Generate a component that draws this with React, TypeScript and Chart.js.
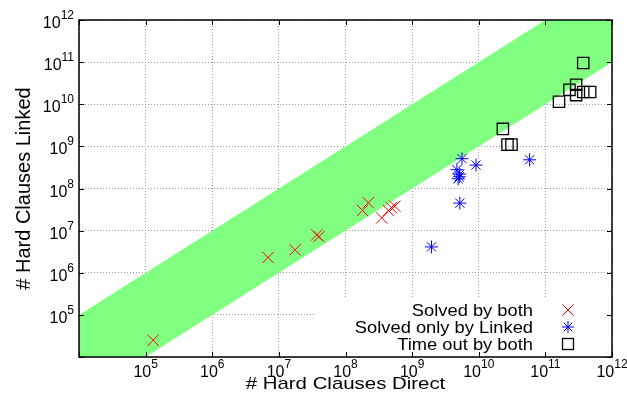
import React, { useEffect, useRef } from 'react';
import { Chart, registerables } from 'chart.js';

Chart.register(...registerables);

// ---- data ----
const axisMin = 1e4;
const axisMax = 1e12;
const decadeValues = [1e4, 1e5, 1e6, 1e7, 1e8, 1e9, 1e10, 1e11, 1e12];
const tickLabelValues = [1e5, 1e6, 1e7, 1e8, 1e9, 1e10, 1e11, 1e12];
const tickLabelExponents = ['5', '6', '7', '8', '9', '10', '11', '12'];

const bandX = [1e4, 1e12];
const bandUpper = [1e5, 1e13];
const bandLower = [1e3, 1e11];

const bothX = [1.3e5, 6.9e6, 1.75e7, 3.7e7, 4.0e7, 1.8e8, 2.2e8, 3.5e8, 4.4e8, 4.9e8, 5.5e8];
const bothY = [2.5e4, 2.3e6, 3.5e6, 7.9e6, 7.2e6, 3.0e7, 4.6e7, 2.0e7, 3.0e7, 3.5e7, 3.8e7];

const linkedX = [5.6e9, 9.1e9, 4.7e9, 5.2e9, 5.1e9, 4.9e9, 5.2e9, 5.8e10, 1.95e9];
const linkedY = [5.1e8, 3.6e8, 2.8e8, 2.2e8, 1.9e8, 1.7e8, 4.5e7, 4.8e8, 4.1e6];

const timeoutX = [3.7e11, 2.9e11, 2.3e11, 2.9e11, 3.7e11, 4.7e11, 1.6e11, 2.3e10, 2.7e10, 3.1e10];
const timeoutY = [9.5e10, 2.9e10, 2.2e10, 1.65e10, 1.95e10, 1.95e10, 1.15e10, 2.6e9, 1.1e9, 1.1e9];

const seriesLabels = ['Solved by both', 'Solved only by Linked', 'Time out by both'];
const xTitle = '# Hard Clauses Direct';
const yTitle = '# Hard Clauses Linked';

const FONT = '"Liberation Sans", Arial, Helvetica, sans-serif';
const GREEN = 'rgb(128,255,128)';

function drawText(
  ctx: CanvasRenderingContext2D,
  s: string,
  x: number,
  y: number,
  size: number,
  align: 'left' | 'right' | 'center',
  sx = 1
) {
  ctx.save();
  ctx.font = `${size}px ${FONT}`;
  const w = ctx.measureText(s).width * sx;
  const left = align === 'right' ? x - w : align === 'center' ? x - w / 2 : x;
  ctx.translate(left, y);
  ctx.scale(sx, 1);
  ctx.textAlign = 'left';
  ctx.textBaseline = 'alphabetic';
  ctx.fillText(s, 0, 0);
  ctx.restore();
  return w;
}

function powerWidth(ctx: CanvasRenderingContext2D, exp: string) {
  ctx.font = `16px ${FONT}`;
  const a = ctx.measureText('10').width;
  ctx.font = `12px ${FONT}`;
  const b = ctx.measureText(exp).width;
  return [a, b];
}

function drawPower(
  ctx: CanvasRenderingContext2D,
  exp: string,
  x: number,
  baseline: number,
  align: 'right' | 'center'
) {
  const [a, b] = powerWidth(ctx, exp);
  const total = a + b;
  const left = align === 'right' ? x - total : x - total / 2;
  drawText(ctx, '10', left, baseline, 16, 'left');
  drawText(ctx, exp, left + a, baseline - 9, 12, 'left');
}

const overlayPlugin = {
  id: 'gnuplotOverlay',
  afterDraw(chart: any) {
    const { ctx, chartArea: a, scales } = chart;
    const xs = scales.x;
    const ys = scales.y;
    ctx.save();

    // legend box background
    const lbLeft = a.right - 296;
    const lbTop = a.bottom - 60;
    ctx.fillStyle = '#ffffff';
    ctx.fillRect(lbLeft, lbTop, a.right - lbLeft, a.bottom - lbTop);

    // border
    ctx.strokeStyle = '#000';
    ctx.lineWidth = 1.5;
    ctx.strokeRect(a.left, a.top, a.right - a.left, a.bottom - a.top);

    // inward tick marks
    ctx.lineWidth = 1;
    ctx.beginPath();
    decadeValues.forEach((v) => {
      const px = Math.round(xs.getPixelForValue(v)) + 0.5;
      ctx.moveTo(px, a.bottom);
      ctx.lineTo(px, a.bottom - 5);
      ctx.moveTo(px, a.top);
      ctx.lineTo(px, a.top + 5);
      const py = Math.round(ys.getPixelForValue(v)) + 0.5;
      ctx.moveTo(a.left, py);
      ctx.lineTo(a.left + 5, py);
      ctx.moveTo(a.right, py);
      ctx.lineTo(a.right - 5, py);
    });
    ctx.stroke();

    // tick labels
    ctx.fillStyle = '#000';
    tickLabelValues.forEach((v, i) => {
      const px = xs.getPixelForValue(v);
      drawPower(ctx, tickLabelExponents[i], px, a.bottom + 20, 'center');
      const py = ys.getPixelForValue(v);
      drawPower(ctx, tickLabelExponents[i], a.left - 5, py + 8, 'right');
    });

    // axis titles
    drawText(ctx, xTitle, (a.left + a.right) / 2, a.bottom + 32, 17, 'center', 1.2);
    ctx.save();
    ctx.translate(30, (a.top + a.bottom) / 2);
    ctx.rotate(-Math.PI / 2);
    drawText(ctx, yTitle, 0, 0, 20, 'center', 1);
    ctx.restore();

    // legend
    const textRight = a.right - 79;
    const mx = a.right - 44;
    const rows = [a.bottom - 47, a.bottom - 30, a.bottom - 13];
    seriesLabels.forEach((lab, i) => {
      drawText(ctx, lab, textRight, rows[i] + 6, 16.5, 'right', 1.11);
    });
    // marker: cross
    ctx.lineWidth = 1;
    ctx.strokeStyle = '#ff0000';
    ctx.beginPath();
    ctx.moveTo(mx - 5.5, rows[0] - 5.5);
    ctx.lineTo(mx + 5.5, rows[0] + 5.5);
    ctx.moveTo(mx + 5.5, rows[0] - 5.5);
    ctx.lineTo(mx - 5.5, rows[0] + 5.5);
    ctx.stroke();
    // marker: star
    ctx.strokeStyle = '#0000ff';
    ctx.beginPath();
    ctx.moveTo(mx, rows[1] - 6);
    ctx.lineTo(mx, rows[1] + 6);
    ctx.moveTo(mx - 6, rows[1]);
    ctx.lineTo(mx + 6, rows[1]);
    ctx.moveTo(mx - 4.2, rows[1] - 4.2);
    ctx.lineTo(mx + 4.2, rows[1] + 4.2);
    ctx.moveTo(mx + 4.2, rows[1] - 4.2);
    ctx.lineTo(mx - 4.2, rows[1] + 4.2);
    ctx.stroke();
    // marker: square
    ctx.strokeStyle = '#000';
    ctx.lineWidth = 1.3;
    ctx.strokeRect(mx - 5.5, rows[2] - 5.5, 11, 11);

    ctx.restore();
  },
};

function pts(xsArr: number[], ysArr: number[]) {
  return xsArr.map((x, i) => ({ x, y: ysArr[i] }));
}

export default function App() {
  const ref = useRef<HTMLCanvasElement | null>(null);

  useEffect(() => {
    if (!ref.current) return;
    const gridCommon = {
      color: '#9a9a9a',
      lineWidth: 1,
      drawTicks: false,
    };
    const chart = new Chart(ref.current, {
      type: 'scatter',
      data: {
        datasets: [
          {
            label: seriesLabels[0],
            data: pts(bothX, bothY),
            pointStyle: 'crossRot',
            pointRadius: 8,
            borderColor: '#ff0000',
            backgroundColor: 'transparent',
            borderWidth: 1,
          },
          {
            label: seriesLabels[1],
            data: pts(linkedX, linkedY),
            pointStyle: 'star',
            pointRadius: 6.5,
            borderColor: '#0000ff',
            backgroundColor: 'transparent',
            borderWidth: 1,
          },
          {
            label: seriesLabels[2],
            data: pts(timeoutX, timeoutY),
            pointStyle: 'rect',
            pointRadius: 8,
            borderColor: '#000000',
            backgroundColor: 'transparent',
            borderWidth: 1.3,
          },
          {
            type: 'line',
            label: 'band upper',
            data: pts(bandX, bandUpper),
            borderWidth: 0,
            borderColor: 'transparent',
            pointRadius: 0,
            backgroundColor: GREEN,
            fill: '+1',
            tension: 0,
          } as any,
          {
            type: 'line',
            label: 'band lower',
            data: pts(bandX, bandLower),
            borderWidth: 0,
            borderColor: 'transparent',
            pointRadius: 0,
            backgroundColor: GREEN,
            fill: false,
            tension: 0,
          } as any,
        ],
      },
      options: {
        animation: false,
        responsive: false,
        devicePixelRatio: 1,
        events: [],
        layout: { padding: { left: 79, top: 20, right: 15, bottom: 41 } },
        plugins: {
          legend: { display: false },
          tooltip: { enabled: false },
        },
        scales: {
          x: {
            type: 'logarithmic',
            min: axisMin,
            max: axisMax,
            z: 1,
            afterBuildTicks: (s: any) => {
              s.ticks = decadeValues.map((v) => ({ value: v }));
            },
            ticks: { display: false },
            grid: gridCommon,
            border: { display: false, dash: [1, 2] },
          },
          y: {
            type: 'logarithmic',
            min: axisMin,
            max: axisMax,
            z: 1,
            afterBuildTicks: (s: any) => {
              s.ticks = decadeValues.map((v) => ({ value: v }));
            },
            ticks: { display: false },
            grid: gridCommon,
            border: { display: false, dash: [1, 2] },
          },
        },
      } as any,
      plugins: [overlayPlugin],
    });
    return () => chart.destroy();
  }, []);

  return (
    <div style={{ position: 'fixed', left: 0, top: 0, width: 627, height: 398, background: '#fff' }}>
      <canvas ref={ref} width={627} height={398} style={{ display: 'block' }} />
    </div>
  );
}
